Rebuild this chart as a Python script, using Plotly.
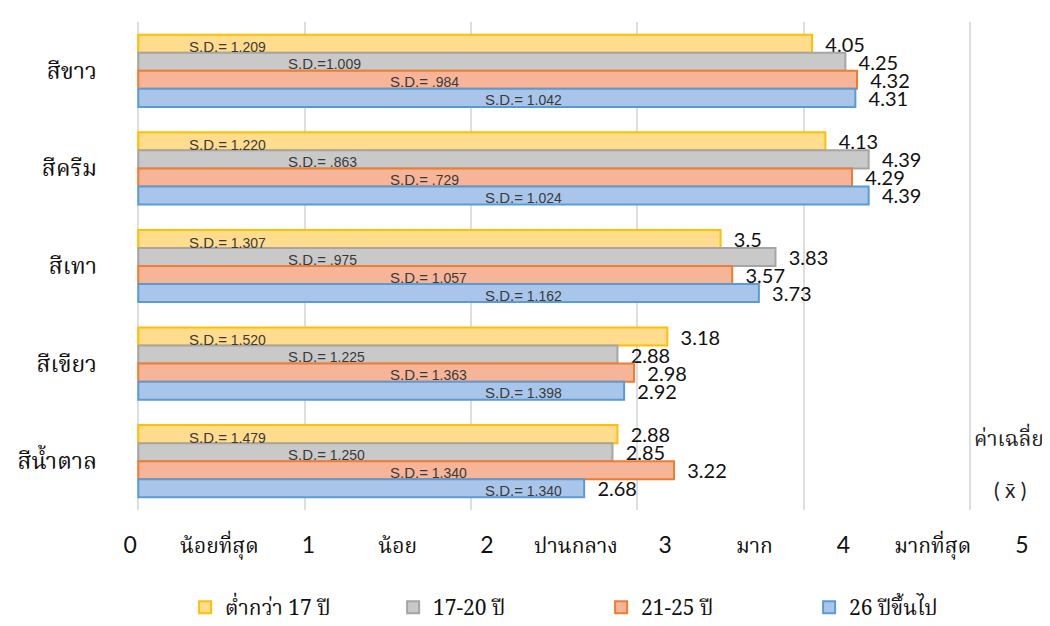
import plotly.graph_objects as go

# ---------------- data ----------------
categories = ["สีขาว", "สีครีม", "สีเทา", "สีเขียว", "สีน้ำตาล"]
series_names = ["ต่ำกว่า 17 ปี", "17-20 ปี", "21-25 ปี", "26 ปีขึ้นไป"]

mean_under17 = [4.05, 4.13, 3.5, 3.18, 2.88]
mean_17_20 = [4.25, 4.39, 3.83, 2.88, 2.85]
mean_21_25 = [4.32, 4.29, 3.57, 2.98, 3.22]
mean_26up = [4.31, 4.39, 3.73, 2.92, 2.68]

sd_under17 = ["S.D.= 1.209", "S.D.= 1.220", "S.D.= 1.307", "S.D.= 1.520", "S.D.= 1.479"]
sd_17_20 = ["S.D.=1.009", "S.D.= .863", "S.D.= .975", "S.D.= 1.225", "S.D.= 1.250"]
sd_21_25 = ["S.D.= .984", "S.D.= .729", "S.D.= 1.057", "S.D.= 1.363", "S.D.= 1.340"]
sd_26up = ["S.D.= 1.042", "S.D.= 1.024", "S.D.= 1.162", "S.D.= 1.398", "S.D.= 1.340"]

scale_ticks = [0, 0.5, 1, 1.5, 2, 2.5, 3, 3.5, 4, 4.5, 5]
scale_text = ["0", "น้อยที่สุด", "1", "น้อย", "2", "ปานกลาง", "3", "มาก", "4", "มากที่สุด", "5"]

# ---------------- style ----------------
fills = ["#FFDC8E", "#C9C9C9", "#F6B598", "#A9C6EA"]
edges = ["#FFC000", "#A5A5A5", "#ED7D31", "#5B9BD5"]
sd_x = [0.29, 0.89, 1.50, 2.07]          # where S.D. text starts (value units)
sd_yshift = [24, 7, -11, -29]             # px relative to category centre

THAI = "Noto Serif Thai, Noto Sans Thai, Tlwg Typo, Garuda, Loma, serif"
NUM = "Lato, Open Sans, sans-serif"

means = [mean_under17, mean_17_20, mean_21_25, mean_26up]
sds = [sd_under17, sd_17_20, sd_21_25, sd_26up]


def tick_label(t):
    if t.isdigit():
        return f"<span style='font-family:Lato;font-size:23px'>{t}</span>"
    return t


def sd_label(t):
    head, num = t.split("=", 1)
    return f"{head}=<span style='font-size:14px'>{num}</span>"


fig = go.Figure()
for i in range(4):
    fig.add_trace(go.Bar(
        y=categories, x=means[i], orientation="h", name=series_names[i],
        marker=dict(color=fills[i], line=dict(color=edges[i], width=2)),
        text=means[i], texttemplate="\u00a0\u00a0%{x}", textposition="outside",
        constraintext="none",
        textfont=dict(family=NUM, size=20, color="#111111"),
        cliponaxis=False,
    ))

# invisible helper trace to carry the rating-scale axis
fig.add_trace(go.Scatter(x=[0, 5], y=[categories[0], categories[0]], xaxis="x2",
                         mode="markers", marker=dict(opacity=0), showlegend=False,
                         hoverinfo="skip"))

annotations = []
for i in range(4):
    for c, t in zip(categories, sds[i]):
        annotations.append(dict(x=sd_x[i], y=c, xref="x", yref="y", text=sd_label(t),
                                showarrow=False, xanchor="left", yanchor="middle",
                                yshift=sd_yshift[i],
                                font=dict(family="Liberation Sans, Arial", size=15,
                                          color="#3A3A3A")))
annotations.append(dict(x=0.996, y=0.143, xref="paper", yref="paper", text="ค่าเฉลี่ย",
                        showarrow=False, xanchor="right", yanchor="middle",
                        font=dict(family=THAI, size=21, color="#222222")))
annotations.append(dict(x=0.957, y=0.041, xref="paper", yref="paper",
                        text="( x\u0304 )", showarrow=False, xanchor="center",
                        yanchor="middle",
                        font=dict(family=NUM, size=21, color="#222222")))

fig.update_layout(
    width=1042, height=618,
    margin=dict(l=112, r=0, t=14, b=116, autoexpand=False),
    paper_bgcolor="white", plot_bgcolor="white",
    barmode="group", bargap=0.26, bargroupgap=0,
    xaxis=dict(range=[-0.11, 5.48], tickvals=[0, 1, 2, 3, 4, 5], showticklabels=False,
               showgrid=True, gridcolor="#DEDEDE", gridwidth=2, zeroline=False,
               showline=False, automargin=False),
    xaxis2=dict(overlaying="x", side="bottom", anchor="y",
                range=[-0.057, 5.158], tickvals=scale_ticks,
                ticktext=[tick_label(t) for t in scale_text],
                showgrid=False, zeroline=False, showline=False, ticks="",
                ticklabelstandoff=21, automargin=False,
                tickfont=dict(family=THAI, size=21, color="#111111")),
    yaxis=dict(autorange="reversed", showgrid=False, zeroline=False, showline=False,
               ticks="", ticklabelstandoff=22, automargin=False,
               tickfont=dict(family=THAI, size=23, color="#111111")),
    legend=dict(orientation="h", x=0.07, xanchor="left", y=-0.158, yanchor="top",
                entrywidth=163, entrywidthmode="pixels", itemwidth=30,
                font=dict(family=THAI, size=21, color="#111111")),
    annotations=annotations,
    showlegend=True,
)

fig.write_html("out.html")
